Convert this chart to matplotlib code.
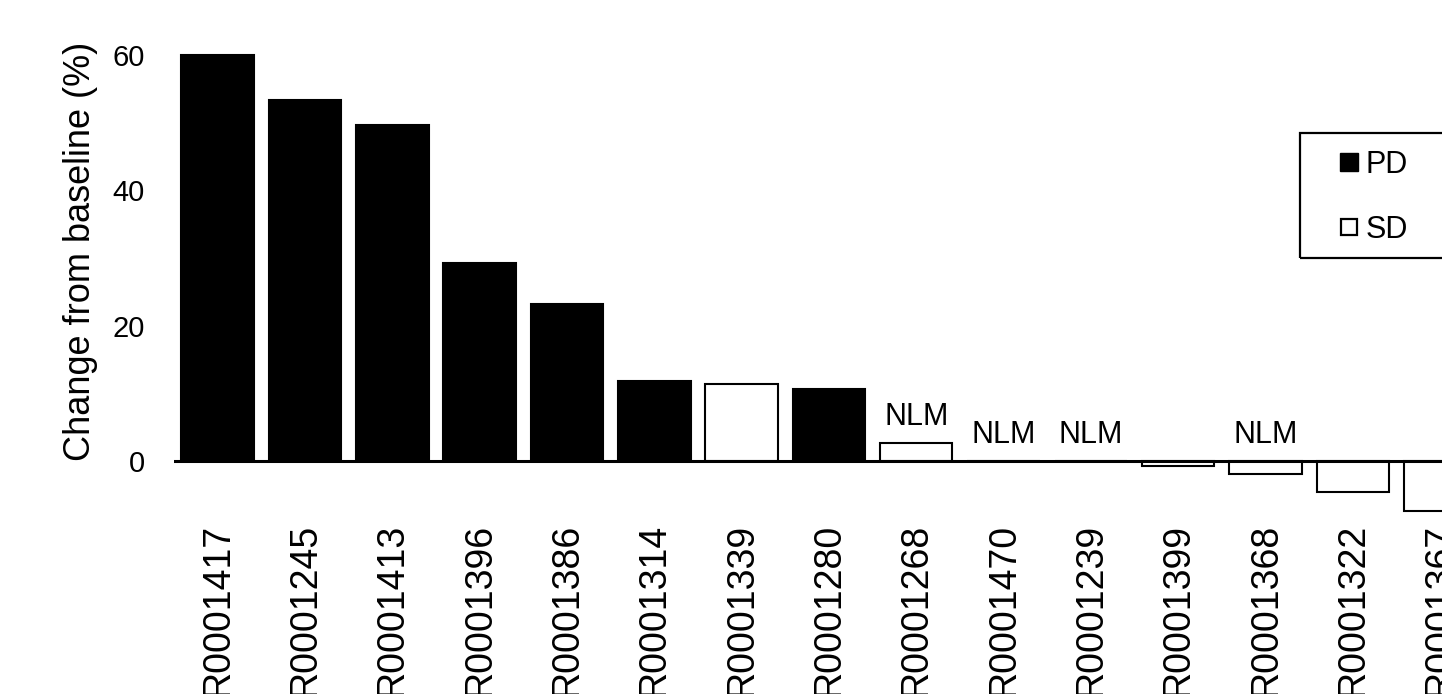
import matplotlib
matplotlib.use('Agg')
import matplotlib.pyplot as plt
from matplotlib.lines import Line2D
from matplotlib.patches import Rectangle

plt.rcParams['font.family'] = ['Liberation Sans', 'DejaVu Sans']

patients = ['R0001417', 'R0001245', 'R0001413', 'R0001396', 'R0001386',
            'R0001314', 'R0001339', 'R0001280', 'R0001268', 'R0001470',
            'R0001239', 'R0001399', 'R0001368', 'R0001322', 'R0001367']
change = [60, 53.3, 49.6, 29.2, 23.2, 11.8, 11.4, 10.6, 2.7, 0, 0,
          -0.7, -1.9, -4.6, -7.4]
response = ['PD', 'PD', 'PD', 'PD', 'PD', 'PD', 'SD', 'PD', 'SD', 'SD',
            'SD', 'SD', 'SD', 'SD', 'SD']
nlm = [False, False, False, False, False, False, False, False, True, True,
       True, False, True, False, False]

colors = {'PD': 'black', 'SD': 'white'}

fig = plt.figure(figsize=(14.42, 6.94), dpi=100)
# axes runs past the right edge on purpose: the chart is cropped there
ax = fig.add_axes([0.1207, 0.2529, 0.9688, 0.7167])

x = list(range(len(patients)))
ax.bar(x, change, width=0.83, color=[colors[r] for r in response],
       edgecolor='black', linewidth=1.5, zorder=2)
ax.axhline(0, color='black', linewidth=2.2, zorder=3)

for i, flag in enumerate(nlm):
    if flag:
        ax.annotate('NLM', (i, max(change[i], 0)), xytext=(0, 8),
                    textcoords='offset points', ha='center', va='bottom',
                    fontsize=22)

ax.set_xlim(-0.5, 15.5)
ax.set_ylim(-8.5, 65)
ax.set_yticks([0, 20, 40, 60])
ax.set_xticks(x)
ax.set_xticklabels(patients, rotation=90, fontsize=27)
ax.tick_params(axis='x', length=0, pad=3)
ax.tick_params(axis='y', length=0, pad=21, labelsize=21)
for s in ax.spines.values():
    s.set_visible(False)

fig.text(81 / 1442, 1 - 251 / 694, 'Change from baseline (%)', rotation=90,
         ha='center', va='center', fontsize=26)

handles = [Line2D([], [], linestyle='none', marker='s', markersize=13,
                  markerfacecolor='black', markeredgecolor='black'),
           Line2D([], [], linestyle='none', marker='s', markersize=11.5,
                  markerfacecolor='white', markeredgecolor='black',
                  markeredgewidth=1.6)]
fig.legend(handles, ['PD', 'SD'], loc='upper left',
           bbox_to_anchor=(1340 / 1442, 1 - 150 / 694), frameon=False,
           fontsize=22, handlelength=0.6, handletextpad=0.25,
           labelspacing=1.15, borderpad=0, borderaxespad=0)
fig.add_artist(Rectangle((1300 / 1442, 1 - 258 / 694), 0.2, 125 / 694,
                         transform=fig.transFigure, fill=False,
                         edgecolor='black', linewidth=1.6))

fig.savefig('out.png', dpi=100)
